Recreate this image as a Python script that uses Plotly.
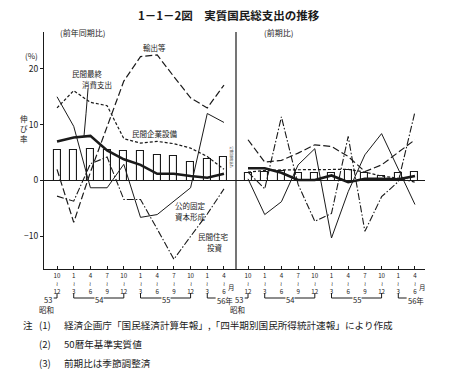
import plotly.graph_objects as go

# ---------------- data ----------------
quarters = list(range(11))
tick_labels = ["10<br>≀<br>12", "1<br>≀<br>3", "4<br>≀<br>6", "7<br>≀<br>9", "10<br>≀<br>12",
               "1<br>≀<br>3", "4<br>≀<br>6", "7<br>≀<br>9", "10<br>≀<br>12", "1<br>≀<br>3", "4<br>≀<br>6"]

# 前年同期比 (year-on-year, %)
gne_yoy = [5.5, 5.5, 5.7, 5.5, 5.3, 5.3, 4.6, 4.4, 3.4, 3.8, 4.3]
cons_yoy = [7.0, 7.7, 8.0, 5.4, 3.8, 2.8, 1.2, 1.2, 0.8, 0.5, 1.2]
capex_yoy = [13.0, 16.1, 14.0, 13.4, 7.5, 6.7, 7.0, 6.6, 5.8, 4.3, 2.0]
export_yoy = [2.0, -7.5, 1.5, 9.5, 17.8, 22.2, 22.5, 18.6, 14.8, 13.0, 17.1]
public_yoy = [15.0, 9.7, -1.3, -1.3, 2.9, -6.6, -6.1, -3.7, -1.3, 12.0, 10.4]
housing_yoy = [-2.8, -3.7, 3.0, 4.2, -3.4, -3.4, -8.7, -14.1, -10.0, -6.0, -1.5]

# 前期比 (quarter-on-quarter, %)
gne_qoq = [1.3, 1.6, 1.7, 1.3, 1.4, 1.4, 1.9, 1.4, 0.8, 1.3, 1.6]
cons_qoq = [2.2, 2.2, 1.4, 0.1, 0.1, 0.9, -0.3, 0.3, 0.3, 0.2, 0.8]
capex_qoq = [1.5, 1.8, 1.9, 1.9, 1.9, 2.0, 2.0, 1.5, 0.8, 0.4, -0.3]
export_qoq = [7.3, 3.3, 3.6, 4.9, 6.4, 6.1, 4.3, 1.6, 2.8, 5.0, 7.3]
public_qoq = [0.3, -6.1, -3.8, 2.8, 5.7, -10.3, -2.0, 4.6, 8.4, 2.2, -4.3]
housing_qoq = [1.5, -1.5, 11.4, -0.7, -7.3, -5.9, 7.9, -9.1, -2.9, -0.2, 12.3]

y_tickvals = [-10, 0, 10, 20]
y_ticktext = ["−10", "0", "10", "20"]

# ---------------- geometry ----------------
# the page body has an 8px margin, so the figure is drawn 8px smaller and
# all page positions below are expressed in page pixels
OFF = 8
W, H = 449 - OFF, 384 - OFF
PL, PR, PT, PB = 44, 425, 32, 269          # plot area in page pixels
L, T = PL - OFF, PT - OFF
R, B = W - (PR - OFF), H - (PB - OFF)
PW, PH = PR - PL, PB - PT
def px(x):
    return (x - PL) / PW
def py(y):
    return (PB - y) / PH

FONT = "Noto Sans CJK JP"
INK = "#1a1a1a"
split = px(236)

fig = go.Figure()

styles = {
    "cons": dict(color=INK, width=2.6),
    "capex": dict(color=INK, width=1.2, dash="3px,2px"),
    "export": dict(color=INK, width=1.2, dash="7px,3px"),
    "public": dict(color=INK, width=1.0),
    "housing": dict(color=INK, width=1.1, dash="7px,2px,1.5px,2px"),
}

for xa, gne, series in [
    ("x", gne_yoy, [cons_yoy, capex_yoy, export_yoy, public_yoy, housing_yoy]),
    ("x2", gne_qoq, [cons_qoq, capex_qoq, export_qoq, public_qoq, housing_qoq]),
]:
    fig.add_trace(go.Bar(x=quarters, y=gne, width=0.42, xaxis=xa, yaxis="y",
                         marker=dict(color="white", line=dict(color=INK, width=1.1)),
                         showlegend=False))
    for key, vals in zip(["public", "housing", "export", "capex", "cons"],
                         [series[3], series[4], series[2], series[1], series[0]]):
        fig.add_trace(go.Scatter(x=quarters, y=vals, mode="lines", xaxis=xa, yaxis="y",
                                 line=styles[key], showlegend=False))

xcommon = dict(tickmode="array", tickvals=quarters, ticktext=tick_labels,
               ticks="inside", ticklen=3, tickcolor=INK, showline=True, linecolor=INK,
               linewidth=1.2, showgrid=False, zeroline=False, anchor="y",
               tickfont=dict(family=FONT, size=6.2, color=INK))

fig.update_layout(
    width=W, height=H,
    margin=dict(l=L, r=R, t=T, b=B, pad=0),
    paper_bgcolor="white", plot_bgcolor="white",
    bargap=0,
    xaxis=dict(domain=[0, split], range=[-0.78, 10.72], **xcommon),
    xaxis2=dict(domain=[split, 1], range=[-0.72, 10.6], **xcommon),
    yaxis=dict(range=[-15.85, 26.6], tickmode="array", tickvals=y_tickvals, ticktext=y_ticktext,
               ticks="outside", ticklen=3, tickcolor=INK, showline=True, linecolor=INK,
               linewidth=1.2, showgrid=False, zeroline=True, zerolinecolor=INK,
               zerolinewidth=1.3, tickfont=dict(family=FONT, size=8.5, color=INK)),
)

shapes = []
# divider between panels
shapes.append(dict(type="line", xref="paper", yref="paper", x0=split, x1=split, y0=0, y1=1,
                   line=dict(color=INK, width=1.2)))
# leader for 民間最終消費支出
shapes.append(dict(type="path", xref="paper", yref="paper",
                   path=f"M {px(88)},{py(89)} Q {px(86)},{py(115)} {px(84)},{py(136)}",
                   line=dict(color=INK, width=1)))

# year brackets under the tick labels
ytop, yline = py(293), py(298)
def bracket(xref, a, b):
    return dict(type="path", xref=xref, yref="paper",
                path=f"M {a},{ytop} L {a},{yline} L {b},{yline} L {b},{ytop}",
                line=dict(color=INK, width=1))
def hook(xref, a, b):
    return dict(type="path", xref=xref, yref="paper",
                path=f"M {a},{ytop} L {a},{yline} L {b},{yline}",
                line=dict(color=INK, width=1))
for xr in ["x", "x2"]:
    shapes.append(hook(xr, 0, -0.2))
    shapes.append(bracket(xr, 1, 4))
    shapes.append(bracket(xr, 5, 8))
    shapes.append(hook(xr, 9, 9.5))

annotations = []
def txt(x, y, s, size=8, xanchor="center", xref="paper", angle=0, bg=None):
    d = dict(x=x if xref != "paper" else px(x), y=py(y), xref=xref, yref="paper", text=s,
             showarrow=False, xanchor=xanchor, yanchor="middle", textangle=angle,
             font=dict(family=FONT, size=size, color=INK))
    if bg:
        d["bgcolor"] = bg
        d["borderpad"] = 0
    annotations.append(d)

txt(229, 15, "<b>1－1－2図　実質国民総支出の推移</b>", size=11.5)
txt(82, 33, "(前年同期比)", size=8)
txt(278, 33, "(前期比)", size=8)
txt(31, 55, "(%)", size=8)
txt(24, 128, "伸<br>び<br>率", size=7.5)
txt(154, 48, "輸出等", size=7.5)
txt(87, 74, "民間最終", size=7.5)
txt(97, 84, "消費支出", size=7.5)
txt(155, 133, "民間企業設備", size=7.5)
txt(190, 205, "公的固定", size=7.5)
txt(190, 216, "資本形成", size=7.5)
txt(213, 236, "民間住宅", size=7.5)
txt(215, 247, "投資", size=7.5)
txt(231.5, 157, "実質国民総支出", size=3, angle=90)

for xr in ["x", "x2"]:
    txt(-0.55, 299, "53", size=7.5, xref=xr)
    txt(2.5, 299, "54", size=7.5, xref=xr, bg="white")
    txt(6.5, 299, "55", size=7.5, xref=xr, bg="white")
    txt(10.05, 300, "56年", size=7.5, xref=xr, bg="white")
    txt(-0.65, 309, "昭和", size=7.5, xref=xr)
    txt(10.45, 287, "月", size=6.5, xref=xr)

NOTE = 9.6
txt(21, 325, "注", size=NOTE, xanchor="left")
txt(37, 325, "(1)", size=NOTE, xanchor="left")
txt(62, 325, "経済企画庁「国民経済計算年報」,「四半期別国民所得統計速報」により作成", size=NOTE, xanchor="left")
txt(37, 344, "(2)", size=NOTE, xanchor="left")
txt(62, 344, "50暦年基準実質値", size=NOTE, xanchor="left")
txt(37, 363, "(3)", size=NOTE, xanchor="left")
txt(62, 363, "前期比は季節調整済", size=NOTE, xanchor="left")

fig.update_layout(shapes=shapes, annotations=annotations)
fig.write_html("out.html")
